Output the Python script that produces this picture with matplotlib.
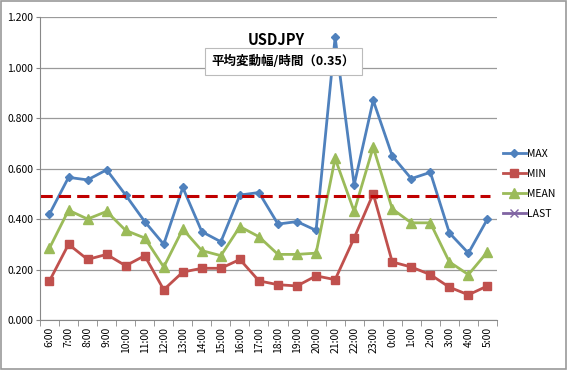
import matplotlib
matplotlib.use("Agg")
import matplotlib.pyplot as plt
from matplotlib.patches import Rectangle

plt.rcParams['font.family'] = ['Noto Sans CJK JP', 'DejaVu Sans']

hours = ["6:00", "7:00", "8:00", "9:00", "10:00", "11:00", "12:00", "13:00",
         "14:00", "15:00", "16:00", "17:00", "18:00", "19:00", "20:00", "21:00",
         "22:00", "23:00", "0:00", "1:00", "2:00", "3:00", "4:00", "5:00"]
max_vals = [0.42, 0.565, 0.555, 0.595, 0.495, 0.39, 0.30, 0.525, 0.35, 0.31, 0.495, 0.505,
            0.38, 0.39, 0.355, 1.12, 0.535, 0.87, 0.65, 0.56, 0.585, 0.345, 0.265, 0.40]
min_vals = [0.155, 0.30, 0.24, 0.26, 0.215, 0.255, 0.12, 0.19, 0.205, 0.205, 0.24, 0.155,
            0.14, 0.135, 0.175, 0.16, 0.325, 0.50, 0.23, 0.21, 0.18, 0.13, 0.10, 0.135]
mean_vals = [0.285, 0.435, 0.40, 0.43, 0.355, 0.325, 0.21, 0.36, 0.275, 0.255, 0.37, 0.33,
             0.26, 0.26, 0.265, 0.64, 0.43, 0.685, 0.44, 0.385, 0.385, 0.23, 0.18, 0.27]
last_vals = []
ref_level = 0.49
yticks = [0.0, 0.2, 0.4, 0.6, 0.8, 1.0, 1.2]

fig = plt.figure(figsize=(5.67, 3.70), dpi=100)
fig.patches.append(Rectangle((0.002, 0.003), 0.996, 0.994, transform=fig.transFigure,
                             fill=False, edgecolor='#9a9a9a', linewidth=1.2))
ax = fig.add_axes([0.0705, 0.135, 0.806, 0.819])

x = list(range(len(hours)))
ax.plot(x, max_vals, color='#4F81BD', lw=2.0, marker='D', ms=4.5, label='MAX')
ax.plot(x, min_vals, color='#C0504D', lw=2.0, marker='s', ms=5.5, label='MIN')
ax.plot(x, mean_vals, color='#9BBB59', lw=2.0, marker='^', ms=6.5, label='MEAN')
ax.plot(last_vals, last_vals, color='#8064A2', lw=2.0, marker='x', ms=6, label='LAST')
ax.axhline(ref_level, xmin=0.0, xmax=0.985, color='#C00000', lw=2.2, ls=(0, (4, 2)))

ax.set_xlim(-0.5, len(hours) - 0.5)
ax.set_ylim(0, 1.2)
ax.set_yticks(yticks)
ax.set_yticklabels([f"{v:.3f}" for v in yticks], fontsize=7.5)
ax.set_xticks(x)
ax.set_xticklabels(hours, rotation=90, fontsize=7.5)
ax.set_xticks([i - 0.5 for i in range(len(hours) + 1)], minor=True)
ax.tick_params(axis='x', which='major', length=0, pad=5)
ax.tick_params(axis='x', which='minor', length=4, color='#888888')
ax.tick_params(axis='y', length=3, color='#888888', pad=2)
ax.yaxis.grid(True, color='#9a9a9a', lw=0.9)
ax.set_axisbelow(True)
for s in ['top', 'right']:
    ax.spines[s].set_visible(False)
for s in ['left', 'bottom']:
    ax.spines[s].set_color('#888888')

fig.text(0.487, 0.892, "USDJPY", ha='center', va='center', fontsize=10.5, fontweight='bold')
fig.text(0.50, 0.835, "平均変動幅/時間（0.35）", ha='center', va='center', fontsize=9,
         fontweight='bold',
         bbox=dict(boxstyle='square,pad=0.55', fc='white', ec='#bbbbbb', lw=0.8))

fig.legend(loc='center left', bbox_to_anchor=(0.87, 0.503), frameon=False, fontsize=7.5,
           handlelength=2.2, handletextpad=0.1, labelspacing=0.95)

fig.savefig("out.png", dpi=100)
